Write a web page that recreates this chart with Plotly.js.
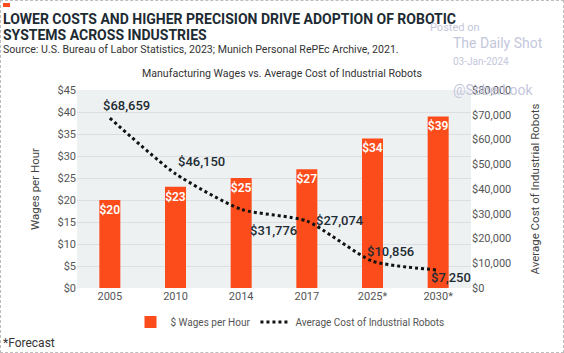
<!DOCTYPE html>
<html>
<head>
<meta charset="utf-8">
<script src="https://cdn.plot.ly/plotly-3.0.1.min.js"></script>
<style>
html,body{margin:0;padding:0;background:#fff;}
#wrap{position:relative;width:564px;height:353px;}
#chart{width:564px;height:353px;}
#frame{position:absolute;left:0;top:0;width:562px;height:351px;border:1px dashed #bdbdbd;pointer-events:none;}
</style>
</head>
<body>
<div id="wrap"><div id="chart"></div><div id="frame"></div></div>
<script>
// ---- data ----
const years = ["2005", "2010", "2014", "2017", "2025*", "2030*"];
const wages = [20, 23, 25, 27, 34, 39];
const wageLabels = ["$20", "$23", "$25", "$27", "$34", "$39"];
const robotCost = [68659, 46150, 31776, 27074, 10856, 7250];
const robotLabels = ["$68,659", "$46,150", "$31,776", "$27,074", "$10,856", "$7,250"];
const wageTicks = [0, 5, 10, 15, 20, 25, 30, 35, 40, 45];
const wageTickText = ["$0", "$5", "$10", "$15", "$20", "$25", "$30", "$35", "$40", "$45"];
const costTicks = [0, 10000, 20000, 30000, 40000, 50000, 60000, 70000, 80000];
const costTickText = ["$0", "$10,000", "$20,000", "$30,000", "$40,000", "$50,000", "$60,000", "$70,000", "$80,000"];

// ---- layout helpers ----
const W = 564, H = 353;
const M = {l: 77, r: 93, t: 90, b: 65};
const PW = W - M.l - M.r, PH = H - M.t - M.b;
const px = x => (x - M.l) / PW;
const py = y => (H - M.b - y) / PH;
const FONT = "Roboto, 'Open Sans', sans-serif";
const DARK = "#1d2b33";

// label offsets for line value labels (pixels)
const lblShift = [[17, 13], [26, 12], [32, -21], [33, 0], [18, 10], [13, -7]];

const annotations = [];
robotCost.forEach((v, i) => {
  annotations.push({
    x: i, y: v, xref: "x", yref: "y2", text: robotLabels[i], showarrow: false,
    xanchor: "center", yanchor: "middle", xshift: lblShift[i][0], yshift: lblShift[i][1],
    font: {family: FONT, size: 13, color: DARK, weight: 500}
  });
});

function txt(text, x, y, size, color, opts) {
  return Object.assign({
    text: text, x: px(x), y: py(y), xref: "paper", yref: "paper", showarrow: false,
    xanchor: "left", yanchor: "middle", font: {family: FONT, size: size, color: color}
  }, opts || {});
}
annotations.push(txt("LOWER COSTS AND HIGHER PRECISION DRIVE ADOPTION OF ROBOTIC", 1, 19, 14, DARK, {font: {family: FONT, size: 14, color: DARK, weight: 700}}));
annotations.push(txt("SYSTEMS ACROSS INDUSTRIES", 1, 35, 14, DARK, {font: {family: FONT, size: 14, color: DARK, weight: 700}}));
annotations.push(txt("Source: U.S. Bureau of Labor Statistics, 2023; Munich Personal RePEc Archive, 2021.", 1, 49, 10.6, "#333"));
annotations.push(txt("Manufacturing Wages vs. Average Cost of Industrial Robots", 282, 74, 10.6, "#333", {xanchor: "center"}));
annotations.push(txt("*Forecast", 1, 343, 12, "#333"));
// watermark
const WM = "#c4c7db";
annotations.push(txt("Posted on", 428, 27, 11, WM));
annotations.push(txt("The Daily Shot", 451, 43, 14, WM));
annotations.push(txt("03-Jan-2024", 451, 61, 10, WM));
annotations.push(txt("@SoberLook", 451, 90, 14, WM));

const traces = [
  {
    type: "bar", x: years, y: wages, name: "$ Wages per Hour",
    marker: {color: "#fc4c1b"}, width: 0.32,
    text: wageLabels, textposition: "inside", insidetextanchor: "end", textangle: 0,
    constraintext: "none",
    textfont: {family: FONT, size: 12, color: "#ffffff", weight: 600},
    hoverinfo: "skip"
  },
  {
    type: "scatter", mode: "lines", x: years, y: robotCost, yaxis: "y2",
    name: "Average Cost of Industrial Robots",
    line: {color: "#111", width: 3, dash: "dot", shape: "spline", smoothing: 0.6},
    hoverinfo: "skip"
  }
];

const layout = {
  width: W, height: H,
  margin: M,
  paper_bgcolor: "#ffffff",
  plot_bgcolor: "#eef1f2",
  font: {family: FONT, color: "#555"},
  showlegend: true,
  legend: {orientation: "h", x: px(290), xanchor: "center", y: py(322), yanchor: "middle",
           font: {family: FONT, size: 10, color: "#555"}, traceorder: "normal"},
  xaxis: {
    type: "category", range: [-0.5, 5.5], showgrid: false, zeroline: false,
    ticks: "", tickfont: {family: FONT, size: 11, color: "#555"}, showline: false
  },
  yaxis: {
    range: [0, 45], tickvals: wageTicks, ticktext: wageTickText,
    showgrid: true, gridcolor: "#dcdfe1", gridwidth: 1, zeroline: false,
    tickfont: {family: FONT, size: 11, color: "#555"},
    title: {text: "Wages per Hour", font: {family: FONT, size: 11.5, color: "#444"}, standoff: 15}
  },
  yaxis2: {
    overlaying: "y", side: "right", range: [0, 80000], tickvals: costTicks, ticktext: costTickText,
    showgrid: false, zeroline: false,
    tickfont: {family: FONT, size: 11, color: "#555"},
    title: {text: "Average Cost of Industrial Robots", font: {family: FONT, size: 11.5, color: "#444"}, standoff: 20}
  },
  shapes: [
    {type: "rect", xref: "paper", yref: "paper", x0: px(3), x1: px(10), y0: py(3), y1: py(7),
     fillcolor: "#fc4c1b", line: {width: 0}}
  ],
  annotations: annotations,
  bargap: 0.5
};

Plotly.newPlot("chart", traces, layout, {staticPlot: true, displayModeBar: false});
</script>
</body>
</html>
